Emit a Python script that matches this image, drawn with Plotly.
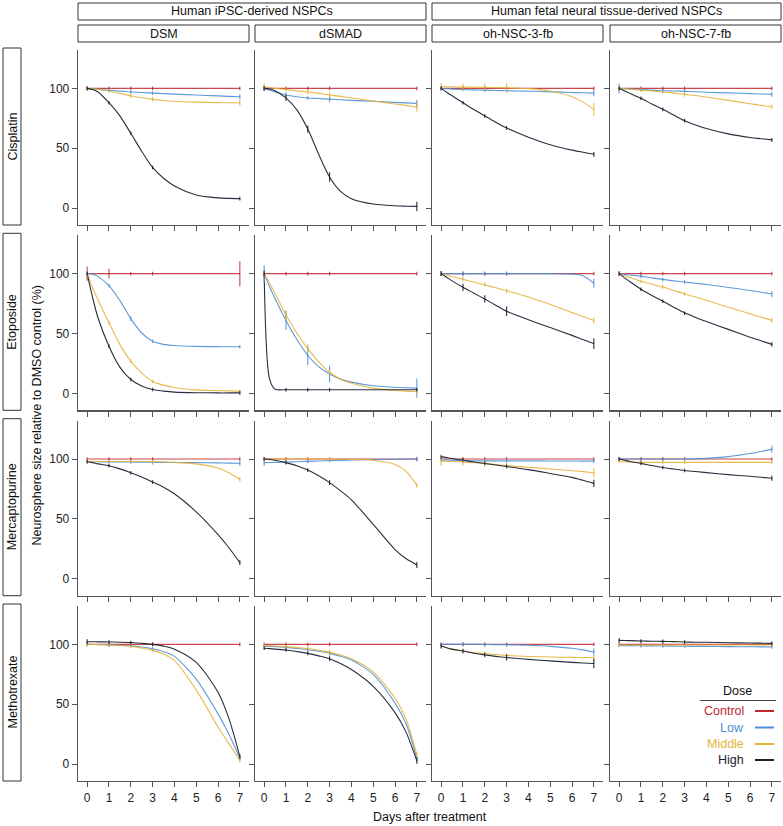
import plotly.graph_objects as go

W, H = 783, 826

SOURCE_GROUPS = ["Human iPSC-derived NSPCs", "Human fetal neural tissue-derived NSPCs"]
CELL_LINES = ["DSM", "dSMAD", "oh-NSC-3-fb", "oh-NSC-7-fb"]
DRUGS = ["Cisplatin", "Etoposide", "Mercaptopurine", "Methotrexate"]
DOSES = ["Control", "Low", "Middle", "High"]
DAYS = [0, 1, 2, 3, 7]
FIT_DAYS = [0, 0.25, 0.5, 1, 1.5, 2, 2.5, 3, 3.5, 4, 5, 6, 6.5, 7]
X_TICKS = [0, 1, 2, 3, 4, 5, 6, 7]
Y_TICKS = [0, 50, 100]
X_TITLE = "Days after treatment"
Y_TITLE = "Neurosphere size relative to DMSO control (%)"

# ---------------- Cisplatin ----------------
cisplatin_mean = {
    "Control": [[100, 100, 100, 100, 100], [100, 100, 100, 100, 100], [100, 100, 100, 100, 100], [100, 100, 100, 100, 100]],
    "Low": [[100, 98.5, 97, 96, 93], [100, 94.5, 92, 91, 87.5], [100, 99, 98.5, 98, 96], [100, 99, 98, 97.5, 95]],
    "Middle": [[100, 98, 94, 91, 88], [101, 99, 97, 94.5, 84.5], [101.5, 101, 101, 100.5, 82.5], [100, 98.5, 97, 95, 84.5]],
    "High": [[100, 88, 62.5, 34, 8], [100, 92, 66, 26, 1.5], [100, 88, 77, 67, 45], [100, 91.7, 82.5, 73, 57]],
}
cisplatin_sd = {
    "Control": [[1.5, 1.5, 1.5, 1.5, 1.5], [2, 1.5, 1.5, 1.5, 1.5], [1.5, 1.5, 1.5, 1.5, 1.5], [1.5, 1.5, 1.5, 1.5, 1.5]],
    "Low": [[1.5, 1.5, 1.5, 1.5, 2], [2, 2.5, 1.5, 2.5, 3], [1.5, 1.5, 1.5, 1.5, 2.5], [4, 1.5, 1.5, 1.5, 2]],
    "Middle": [[1.5, 1.5, 2, 2, 2.5], [3, 1.5, 2, 2.5, 4], [3, 3, 3, 3.5, 5.5], [1.5, 1.5, 1.5, 2, 2]],
    "High": [[1.5, 1.5, 1.5, 1.5, 1.5], [2, 2.5, 3, 4, 4], [1.5, 1.5, 1.5, 1.5, 2], [1.5, 1.5, 1.5, 1.5, 1.5]],
}
cisplatin_fit = {
    "Low": [[100, 99.6, 99.2, 98.4, 97.7, 97, 96.5, 96, 95.6, 95.2, 94.4, 93.7, 93.3, 93],
            [100, 98.5, 97, 94.5, 93, 92, 91.5, 91, 90.5, 90, 89.2, 88.3, 87.9, 87.5],
            [100, 99.7, 99.4, 99, 98.7, 98.5, 98.2, 98, 97.8, 97.6, 97.1, 96.6, 96.3, 96],
            [100, 99.8, 99.5, 99, 98.5, 98, 97.8, 97.5, 97.2, 96.8, 96.2, 95.6, 95.3, 95]],
    "Middle": [[100, 99.7, 99.2, 97.8, 95.8, 93.8, 92.1, 90.8, 89.9, 89.2, 88.5, 88.1, 88, 88],
               [101, 100.6, 100, 99, 98, 97, 95.8, 94.5, 93.3, 92, 89.5, 87, 85.8, 84.5],
               [101.5, 101.4, 101.3, 101, 101, 100.8, 100.7, 100.5, 100.2, 99.8, 97.8, 93, 88.5, 82.5],
               [100, 99.6, 99.2, 98.5, 97.8, 97, 96, 95, 94, 92.8, 90, 87.2, 85.8, 84.5]],
    "High": [[100, 99, 97, 88, 77, 62.5, 47.5, 34, 25, 18.5, 11, 8.6, 8.2, 8],
             [100, 99.5, 98, 92, 82, 66, 45, 26, 14, 8, 3.5, 2, 1.7, 1.5],
             [100, 96.8, 93.8, 88, 82.3, 77, 71.8, 67, 63, 59.3, 53, 48.5, 46.7, 45],
             [100, 97.8, 95.8, 91.7, 87, 82.5, 77.7, 73, 69.5, 66.5, 62, 59, 58, 57]],
}

# ---------------- Etoposide ----------------
etoposide_mean = {
    "Control": [[100, 100, 100, 100, 100], [100, 100, 100, 100, 100], [100, 100, 100, 100, 100], [100, 100, 100, 100, 100]],
    "Low": [[100, 90, 62.5, 43.6, 39], [100, 61, 31.7, 16.3, 4.5], [100, 100, 100, 100, 92], [100, 97.8, 95, 93, 83]],
    "Middle": [[100, 59, 27, 10, 2], [100, 65.5, 37.4, 17.7, 1.5], [100, 95.5, 91, 85.5, 61], [100, 93.6, 89, 83, 61]],
    "High": [[100, 39.5, 11.7, 3.3, 0.5], [100, 3.2, 3.2, 3.2, 3.2], [100, 88.6, 79, 68.6, 41.7], [100, 87, 77, 67, 41]],
}
etoposide_sd = {
    "Control": [[6, 4, 1.5, 1.5, 10.5], [3, 1.5, 1.5, 1.5, 1.5], [2, 1.5, 1.5, 1.5, 1.5], [2, 1.5, 1.5, 1.5, 1.5]],
    "Low": [[1.5, 1.5, 2, 1.5, 1.5], [7, 8, 8, 7, 8], [2, 2, 1.5, 1.5, 3.5], [1.5, 1.5, 1.5, 1.5, 2.5]],
    "Middle": [[1.5, 1.5, 1.5, 1.5, 1.5], [2, 4, 3.5, 2, 2], [1.5, 2, 2, 2, 2.5], [1.5, 1.5, 1.5, 1.5, 2]],
    "High": [[1.5, 1.5, 1.5, 1.5, 1.5], [2, 1.5, 1.5, 1.5, 1.5], [2, 3, 3, 4, 4.5], [1.5, 1.5, 1.5, 1.5, 2]],
}
etoposide_fit = {
    "Low": [[100, 99.5, 97.5, 90, 77.5, 62.5, 50.5, 43.6, 41, 40, 39.3, 39.1, 39, 39],
            [100, 89, 79, 61, 45, 31.7, 22.5, 16.3, 12, 9.5, 6.5, 5.2, 4.8, 4.5],
            [100, 100, 100, 100, 100, 100, 100, 100, 100, 100, 100, 99.6, 98.3, 92],
            [100, 99.4, 98.9, 97.8, 96.5, 95.2, 94, 93, 92, 91, 88.5, 86, 84.5, 83]],
    "Middle": [[100, 88, 78, 59, 41, 27, 17, 10, 7, 5, 3, 2.4, 2.2, 2],
               [100, 92, 83.5, 65.5, 50.5, 37.4, 26.5, 17.7, 12, 8.5, 4.5, 2.5, 2, 1.5],
               [100, 98.8, 97.6, 95.3, 93, 90.6, 88.2, 85.7, 83.3, 80.6, 74.3, 67.5, 64.3, 61],
               [100, 98.4, 96.8, 93.6, 91.2, 88.8, 86, 83.2, 80.5, 77.8, 72, 66.5, 63.8, 61]],
    "High": [[100, 80, 63, 39.5, 22, 11.7, 6.3, 3.3, 2, 1.2, 0.7, 0.5, 0.5, 0.5],
             [100, 12, 3.6, 3.2, 3.2, 3.2, 3.2, 3.2, 3.2, 3.2, 3.2, 3.2, 3.2, 3.2],
             [100, 97, 94, 88.6, 83.7, 78.8, 73.7, 68.6, 65, 61.5, 55, 48.5, 45, 41.7],
             [100, 96.5, 93.2, 87, 81.8, 77, 72, 67.3, 63.5, 60, 53.5, 47, 44, 41]],
}

# ---------------- Mercaptopurine ----------------
mercaptopurine_mean = {
    "Control": [[100, 100, 100, 100, 100], [100, 100, 100, 100, 100], [100, 100, 100, 100, 100], [100, 100, 100, 100, 100]],
    "Low": [[98, 97.5, 97.5, 97.5, 96.5], [97, 97.5, 98, 99, 100], [99.5, 98.5, 98.5, 98.5, 98.3], [100, 100, 100, 100, 108.3]],
    "Middle": [[98, 98, 98, 97.8, 83], [100, 100, 100, 100, 78], [98.3, 97.5, 96.4, 94.4, 88.6], [98, 97.2, 97.2, 97.2, 97.2]],
    "High": [[97.8, 94.4, 88.6, 80.8, 13.6], [100, 97, 90.8, 80.3, 11.7], [102, 99.5, 96.5, 94, 79.7], [100, 96.4, 93, 90.5, 84]],
}
mercaptopurine_sd = {
    "Control": [[1.5, 1.5, 1.5, 1.5, 1.5], [1.5, 1.5, 1.5, 1.5, 1.5], [1.5, 1.5, 1.5, 1.5, 1.5], [1.5, 1.5, 1.5, 1.5, 1.5]],
    "Low": [[1.5, 1.5, 1.5, 2, 2], [2.5, 1.5, 1.5, 1.5, 2], [1.5, 1.5, 1.5, 1.5, 1.5], [1.5, 1.5, 1.5, 1.5, 3]],
    "Middle": [[1.5, 1.5, 1.5, 1.5, 2], [1.5, 1.5, 1.5, 1.5, 2], [4, 3, 3, 3, 4], [1.5, 1.5, 1.5, 1.5, 1.5]],
    "High": [[1.5, 1.5, 1.5, 1.5, 2], [1.5, 1.5, 1.5, 2, 2.5], [1.5, 1.5, 1.5, 1.5, 3], [1.5, 1.5, 1.5, 1.5, 2]],
}
mercaptopurine_fit = {
    "Low": [[98, 97.8, 97.7, 97.5, 97.5, 97.5, 97.4, 97.3, 97.2, 97.1, 97, 96.8, 96.6, 96.5],
            [97, 97.1, 97.2, 97.5, 97.8, 98.1, 98.4, 98.7, 98.9, 99.2, 99.5, 99.8, 99.9, 100],
            [99.5, 99.2, 99, 98.6, 98.5, 98.5, 98.5, 98.5, 98.5, 98.5, 98.4, 98.4, 98.3, 98.3],
            [100, 100, 100, 100, 100, 100, 100, 100, 100.2, 100.6, 102, 104.6, 106.3, 108.3]],
    "Middle": [[98, 98, 98, 98, 98, 98, 98, 97.8, 97.6, 97.3, 96, 92.5, 88.5, 83],
               [100, 100, 100, 100, 100, 100, 100, 100, 100, 99.8, 99, 95.5, 90, 78],
               [98.3, 98.1, 97.9, 97.5, 97, 96.4, 95.5, 94.6, 93.9, 93.2, 91.7, 90.3, 89.5, 88.6],
               [98, 97.8, 97.6, 97.3, 97.2, 97.2, 97.2, 97.2, 97.2, 97.2, 97.2, 97.2, 97.2, 97.2]],
    "High": [[97.8, 97, 96, 94.4, 91.8, 88.6, 85, 80.8, 76.5, 71, 56, 37, 26, 13.6],
             [100, 99.6, 99, 97, 94.5, 90.8, 86, 80.3, 73.5, 66, 45.5, 24.5, 17, 11.7],
             [102, 101.2, 100.4, 99, 97.6, 96.3, 95, 93.8, 92.5, 91.2, 88, 84.7, 82.3, 79.7],
             [100, 99, 98, 96.4, 94.6, 93, 91.7, 90.5, 89.6, 88.7, 87, 85.6, 84.8, 84]],
}

# ---------------- Methotrexate ----------------
methotrexate_mean = {
    "Control": [[100, 100, 100, 100, 100], [100, 100, 100, 100, 100], [100, 100, 100, 100, 100], [100, 100, 100, 100, 100]],
    "Low": [[100, 99.5, 99, 96, 5], [98.5, 97.5, 95.5, 92.5, 5], [100, 100, 100, 99.8, 93.6], [99, 98.8, 98.6, 98.4, 97.8]],
    "Middle": [[100, 99.5, 98.5, 95, 3.3], [99, 98, 96.5, 93.5, 8], [98.6, 94.4, 92.2, 90.8, 89], [99.5, 99.5, 99.5, 99.5, 99.5]],
    "High": [[102.2, 102, 101.5, 100, 6.4], [96.7, 95.3, 92.5, 88, 2.8], [98.6, 94.4, 91.2, 89, 84], [103.3, 102.8, 102.5, 102, 100.8]],
}
methotrexate_sd = {
    "Control": [[1.5, 1.5, 1.5, 1.5, 1.5], [1.5, 1.5, 1.5, 1.5, 1.5], [1.5, 1.5, 1.5, 1.5, 1.5], [1.5, 1.5, 1.5, 1.5, 1.5]],
    "Low": [[1.5, 1.5, 1.5, 1.5, 2], [1.5, 1.5, 2, 2, 2], [1.5, 1.5, 1.5, 1.5, 3], [1.5, 1.5, 1.5, 1.5, 1.5]],
    "Middle": [[1.5, 1.5, 1.5, 1.5, 2], [1.5, 1.5, 1.5, 2, 2], [2, 1.5, 1.5, 1.5, 2], [1.5, 1.5, 1.5, 1.5, 1.5]],
    "High": [[2, 1.5, 1.5, 1.5, 2], [1.5, 1.5, 1.5, 2, 2.5], [2, 2, 2, 2.5, 4], [2, 1.5, 1.5, 1.5, 1.5]],
}
methotrexate_fit = {
    "Low": [[100, 99.9, 99.8, 99.5, 99.2, 98.7, 97.8, 96.3, 94, 90, 71, 42, 25, 5],
            [98.5, 98.3, 98.1, 97.5, 96.6, 95.5, 94.2, 92.5, 90, 87, 75, 51, 34, 5],
            [100, 100, 100, 100, 100, 99.9, 99.8, 99.7, 99.5, 99.2, 98.3, 96.7, 95.4, 93.6],
            [99, 98.9, 98.9, 98.8, 98.7, 98.6, 98.5, 98.4, 98.3, 98.3, 98.1, 98, 97.9, 97.8]],
    "Middle": [[100, 99.9, 99.8, 99.5, 99, 98.5, 97, 95, 92, 86.5, 62, 31, 17, 3.3],
               [99, 98.8, 98.6, 98, 97.3, 96.5, 95, 93.5, 91, 88, 77, 55, 38, 8],
               [98.6, 97.2, 96, 94.4, 93.1, 92.2, 91.5, 90.8, 90.3, 89.9, 89.4, 89.1, 89, 89],
               [99.5, 99.5, 99.5, 99.5, 99.5, 99.5, 99.5, 99.5, 99.5, 99.5, 99.5, 99.5, 99.5, 99.5]],
    "High": [[102.2, 102.2, 102.1, 102, 101.8, 101.5, 100.8, 100, 98.5, 96, 85, 60, 38, 6.4],
             [96.7, 96.4, 96, 95.3, 94, 92.5, 90.4, 88, 84, 79, 65, 43, 27, 2.8],
             [98.6, 97.2, 96, 94.4, 92.6, 91.2, 90, 89, 88.2, 87.5, 86.2, 85, 84.5, 84],
             [103.3, 103.2, 103.1, 102.8, 102.6, 102.5, 102.3, 102, 101.8, 101.7, 101.4, 101.1, 101, 100.8]],
}

DRUG_DATA = {
    "Cisplatin": (cisplatin_mean, cisplatin_sd, cisplatin_fit),
    "Etoposide": (etoposide_mean, etoposide_sd, etoposide_fit),
    "Mercaptopurine": (mercaptopurine_mean, mercaptopurine_sd, mercaptopurine_fit),
    "Methotrexate": (methotrexate_mean, methotrexate_sd, methotrexate_fit),
}

COLORS = {"Control": "#C0272F", "Low": "#4E8FD6", "Middle": "#E6B33A", "High": "#1B2333"}
LINE_ALPHA = {"Control": "rgba(192,39,47,0.85)", "Low": "rgba(78,143,214,0.9)",
              "Middle": "rgba(230,179,58,0.9)", "High": "rgba(27,35,51,0.95)"}

FONT = "Liberation Sans, Arial, Helvetica, sans-serif"
AXIS_COLOR = "#555555"

# layout geometry (pixels)
COL_LEFT = [78, 255, 432, 610]
PANEL_W = 171
ROW_TOP = [50, 235.3, 420.7, 606]
PANEL_H = 175


def px(x):
    return x / W


def py(y):
    return 1 - y / H


fig = go.Figure()
layout = {}

for r, drug in enumerate(DRUGS):
    means, sds, fits = DRUG_DATA[drug]
    for c in range(4):
        idx = r * 4 + c + 1
        xname = "x" if idx == 1 else f"x{idx}"
        yname = "y" if idx == 1 else f"y{idx}"
        for dose in DOSES:
            if dose == "Control":
                fx, fy = DAYS, means[dose][c]
            else:
                fx, fy = FIT_DAYS, fits[dose][c]
            fig.add_trace(go.Scatter(
                x=fx, y=fy, mode="lines", xaxis=xname, yaxis=yname,
                line=dict(color=LINE_ALPHA[dose], width=1.1, shape="spline", smoothing=0.8),
                showlegend=False, hoverinfo="skip"))
        for dose in DOSES:
            fig.add_trace(go.Scatter(
                x=DAYS, y=means[dose][c], mode="markers", xaxis=xname, yaxis=yname,
                marker=dict(size=1, color=COLORS[dose]),
                error_y=dict(type="data", array=sds[dose][c], color=LINE_ALPHA[dose], thickness=1.1, width=0),
                showlegend=False, hoverinfo="skip"))

        x0 = COL_LEFT[c]
        y0 = ROW_TOP[r]
        layout["xaxis" + ("" if idx == 1 else str(idx))] = dict(
            domain=[px(x0), px(x0 + PANEL_W)], range=[-0.42, 7.42], anchor=yname,
            tickmode="array", tickvals=X_TICKS, ticktext=[str(v) for v in X_TICKS],
            showticklabels=(r == 3), ticks="outside", ticklen=5, tickwidth=1, tickcolor=AXIS_COLOR,
            showline=True, linecolor=AXIS_COLOR, linewidth=1.3, showgrid=False, zeroline=False,
            tickfont=dict(family=FONT, size=12, color="#222222"), fixedrange=True)
        layout["yaxis" + ("" if idx == 1 else str(idx))] = dict(
            domain=[py(y0 + PANEL_H), py(y0)], range=[-14, 132], anchor=xname,
            tickmode="array", tickvals=Y_TICKS, ticktext=[str(v) for v in Y_TICKS],
            showticklabels=(c == 0), ticks="outside", ticklen=5, tickwidth=1, tickcolor=AXIS_COLOR,
            showline=True, linecolor=AXIS_COLOR, linewidth=1.3, showgrid=False, zeroline=False,
            tickfont=dict(family=FONT, size=12, color="#222222"), fixedrange=True)

shapes = []
annotations = []
STRIP_LINE = dict(color="#333333", width=1)

# top group strips
GROUP_SPANS = [(78, 426), (432, 781)]
for (a, b), txt in zip(GROUP_SPANS, SOURCE_GROUPS):
    shapes.append(dict(type="rect", xref="paper", yref="paper", x0=px(a), x1=px(b), y0=py(20), y1=py(3),
                       line=STRIP_LINE, fillcolor="white", layer="below"))
    annotations.append(dict(text=txt, xref="paper", yref="paper", x=px((a + b) / 2), y=py(11.5),
                            showarrow=False, font=dict(family=FONT, size=12.5, color="#111111"),
                            xanchor="center", yanchor="middle"))
# cell-line strips
for c, txt in enumerate(CELL_LINES):
    a = COL_LEFT[c]
    b = COL_LEFT[c] + PANEL_W
    shapes.append(dict(type="rect", xref="paper", yref="paper", x0=px(a), x1=px(b), y0=py(42), y1=py(25),
                       line=STRIP_LINE, fillcolor="white", layer="below"))
    annotations.append(dict(text=txt, xref="paper", yref="paper", x=px((a + b) / 2), y=py(33.5),
                            showarrow=False, font=dict(family=FONT, size=12.5, color="#111111"),
                            xanchor="center", yanchor="middle"))
# drug strips (left)
for r, txt in enumerate(DRUGS):
    t = ROW_TOP[r] - 2
    b = ROW_TOP[r] + PANEL_H
    shapes.append(dict(type="rect", xref="paper", yref="paper", x0=px(3), x1=px(21), y0=py(b), y1=py(t),
                       line=STRIP_LINE, fillcolor="white", layer="below"))
    annotations.append(dict(text=txt, xref="paper", yref="paper", x=px(12), y=py((t + b) / 2),
                            showarrow=False, textangle=-90, font=dict(family=FONT, size=12.5, color="#111111"),
                            xanchor="center", yanchor="middle"))

# axis titles
annotations.append(dict(text=Y_TITLE, xref="paper", yref="paper", x=px(36), y=py(415.5), showarrow=False,
                        textangle=-90, font=dict(family=FONT, size=12.5, color="#111111"),
                        xanchor="center", yanchor="middle"))
annotations.append(dict(text=X_TITLE, xref="paper", yref="paper", x=px(429.5), y=py(817), showarrow=False,
                        font=dict(family=FONT, size=12.5, color="#111111"), xanchor="center", yanchor="middle"))

# legend (drawn manually, ggplot style)
annotations.append(dict(text="Dose", xref="paper", yref="paper", x=px(737), y=py(691), showarrow=False,
                        font=dict(family=FONT, size=12.5, color="#111111"), xanchor="center", yanchor="middle"))
shapes.append(dict(type="line", xref="paper", yref="paper", x0=px(700), x1=px(776), y0=py(700.5), y1=py(700.5),
                   line=dict(color="#444444", width=1)))
LEG_Y = [711, 727.5, 744, 760]
for dose, yy in zip(DOSES, LEG_Y):
    annotations.append(dict(text=dose, xref="paper", yref="paper", x=px(746), y=py(yy), showarrow=False,
                            font=dict(family=FONT, size=12.5, color=COLORS[dose]), xanchor="right", yanchor="middle"))
    shapes.append(dict(type="line", xref="paper", yref="paper", x0=px(755), x1=px(774), y0=py(yy), y1=py(yy),
                       line=dict(color=COLORS[dose], width=2)))

fig.update_layout(
    width=W, height=H, margin=dict(l=0, r=0, t=0, b=0),
    paper_bgcolor="white", plot_bgcolor="white",
    showlegend=False, shapes=shapes, annotations=annotations,
    font=dict(family=FONT),
    **layout)

fig.write_html("out.html", config={"displayModeBar": False, "staticPlot": True},
               post_script="document.body.style.margin='0';document.body.style.overflow='hidden';")
